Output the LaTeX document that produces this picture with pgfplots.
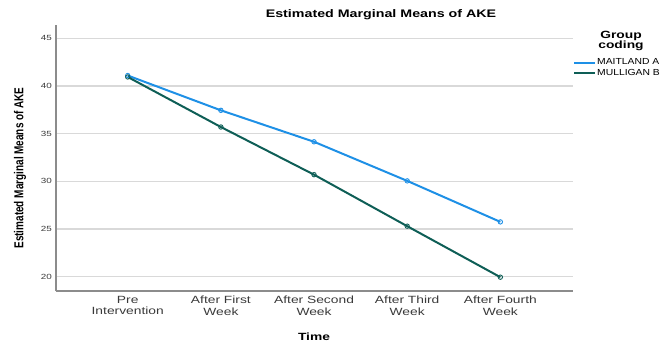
\documentclass[border=0pt]{standalone}
\usepackage{pgfplots}
\pgfplotsset{compat=1.18}
\usepackage{fontspec}
\setmainfont{Liberation Sans}
\definecolor{maitland}{HTML}{1E90E6}
\definecolor{mulligan}{HTML}{0E5E56}
\definecolor{gridc}{HTML}{D9D9D9}
\definecolor{axc}{HTML}{8C8C8C}
\definecolor{tickc}{HTML}{3A3A3A}
\newcommand{\sx}[1]{\scalebox{1.32}[1]{#1}}
\newcommand{\lx}[1]{\scalebox{1.18}[1]{#1}}
\begin{document}
\begin{tikzpicture}[x=1bp,y=1bp]
\begin{axis}[
  at={(0,0)}, anchor=south west, scale only axis,
  width=517bp, height=266bp,
  xmin=-0.77, xmax=4.78, ymin=18.5, ymax=46.4,
  xtick={0,1,2,3,4},
  xticklabels={{\sx{Pre}\\\sx{Intervention}},{\sx{After First}\\\sx{Week}},{\sx{After Second}\\\sx{Week}},{\sx{After Third}\\\sx{Week}},{\sx{After Fourth}\\\sx{Week}}},
  xticklabel style={align=center, font=\fontsize{10.5}{11.5}\selectfont, text=tickc, inner sep=1bp, yshift=-4bp},
  ytick={20,25,30,35,40,45},
  yticklabel={\sx{\pgfmathprintnumber{\tick}}},
  yticklabel style={font=\fontsize{7.5}{8}\selectfont, text=tickc, inner sep=1bp, xshift=-3bp},
  /pgf/number format/assume math mode=true,
  ymajorgrids, grid style={gridc, line width=1.4bp},
  axis x line*=bottom, axis y line*=left,
  axis line style={axc, line width=1.2bp, -},
  major tick length=0pt,
  clip=false,
  legend style={at={(1.0,0.877)}, anchor=north west, draw=none, fill=none,
    font=\fontsize{8.8}{10}\selectfont, inner sep=0pt, row sep=1bp,
    legend cell align=left, nodes={inner sep=1bp}},
  legend image code/.code={\draw[#1, line width=2bp] (0bp,0bp) -- (21bp,0bp);},
]
\addplot[maitland, line width=2bp, mark=o, mark size=2.2bp, mark options={line width=0.9bp}]
  coordinates {(0,41.1) (1,37.45) (2,34.15) (3,30.05) (4,25.75)};
\addlegendentry{\lx{MAITLAND A}}
\addplot[mulligan, line width=2bp, mark=o, mark size=2.2bp, mark options={line width=0.9bp}]
  coordinates {(0,40.95) (1,35.7) (2,30.7) (3,25.3) (4,19.95)};
\addlegendentry{\lx{MULLIGAN B}}
\end{axis}
\node[font=\fontsize{11}{12}\selectfont\bfseries] at (325bp,276bp) {\scalebox{1.3}[1]{Estimated Marginal Means of AKE}};
\node[font=\fontsize{10.5}{12}\selectfont\bfseries] at (258bp,-46bp) {\sx{Time}};
\node[font=\fontsize{10}{12}\selectfont\bfseries, rotate=90] at (-36bp,123bp) {\scalebox{1}[1.3]{Estimated Marginal Means of AKE}};
\node[font=\fontsize{10.5}{10.5}\selectfont\bfseries, align=center] at (565bp,250bp) {\sx{Group}\\\sx{coding}};
\pgfresetboundingbox
\useasboundingbox (-56bp,-54bp) rectangle (608bp,291bp);
\end{tikzpicture}
\end{document}
